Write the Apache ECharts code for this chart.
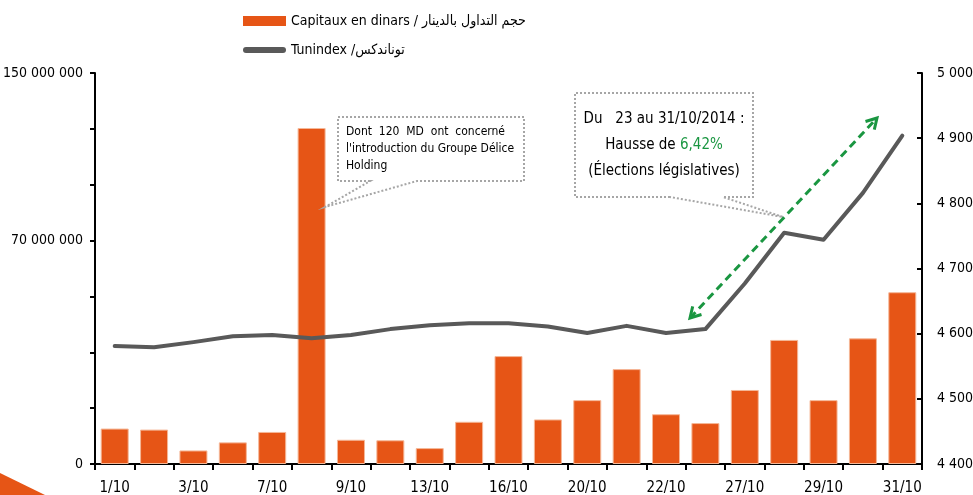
<!DOCTYPE html>
<html>
<head>
<meta charset="utf-8">
<script src="https://cdn.jsdelivr.net/npm/echarts@6/dist/echarts.min.js"></script>
<style>
  html, body { margin: 0; padding: 0; background: #fff; }
  #chart { width: 973px; height: 495px; }
</style>
</head>
<body>
<div id="chart"></div>
<script>
// Séances d'octobre 2014
const days = ['1/10', '2/10', '3/10', '6/10', '7/10', '8/10', '9/10', '10/10', '13/10', '14/10', '16/10',
  '17/10', '20/10', '21/10', '22/10', '23/10', '27/10', '28/10', '29/10', '30/10', '31/10']

// capitaux échangés (dinars)
const capitaux = [13600000, 13200000, 5200000, 8300000, 12300000, 128900000, 9300000, 9100000, 6100000, 16200000,
  41400000, 17100000, 24500000, 36400000, 19100000, 15700000, 28400000, 47600000, 24500000, 48200000, 65900000]

// Tunindex (points)
const tunindex = [4581, 4579, 4587, 4596, 4598, 4593, 4598, 4607, 4613, 4616, 4616,
  4611, 4601, 4612, 4601, 4607, 4677, 4755, 4744, 4816, 4904]

const leftTicks = [0, 21428571, 42857143, 64285714, 85714286, 107142857, 128571429, 150000000]
const leftLabelValues = [0, 85714286, 150000000]
const leftLabelTexts = ['0', '70 000 000', '150 000 000']

const barName = 'Capitaux en dinars / حجم التداول بالدينار'
const lineName = 'Tunindex /توناندكس'

const ORANGE = '#E65516'
const GREY = '#595959'
const GREEN = '#1A9641'
const FONT = "'Liberation Sans Narrow', 'DejaVu Sans Condensed', 'Roboto Condensed', 'Noto Sans', sans-serif"

const chart = echarts.init(document.getElementById('chart'))

function spaced(v) {
  return String(v).replace(/\B(?=(\d{3})+(?!\d))/g, ' ')
}

chart.setOption({
  animation: false,
  textStyle: { fontFamily: FONT },
  grid: { left: 95, right: 51, top: 73, bottom: 31, outerBoundsMode: 'none' },
  legend: {
    orient: 'vertical',
    left: 238,
    top: 9,
    itemWidth: 43,
    itemHeight: 10,
    itemGap: 15,
    textStyle: { fontFamily: FONT, fontSize: 14, color: '#000' },
    data: [
      { name: barName, icon: 'rect', itemStyle: { borderWidth: 0 } },
      { name: lineName, icon: 'path://M3,0H40A3,3 0 0 1 40,6H3A3,3 0 0 1 3,0Z' }
    ]
  },
  xAxis: {
    type: 'category',
    data: days,
    axisLine: { lineStyle: { color: '#000', width: 2 } },
    axisTick: { show: true, length: 6, interval: 0, lineStyle: { color: '#000', width: 2 } },
    axisLabel: { interval: 1, margin: 17, fontSize: 15, color: '#000', fontFamily: FONT }
  },
  yAxis: [
    {
      type: 'value',
      min: 0,
      max: 150000000,
      splitLine: { show: false },
      axisLine: { show: true, lineStyle: { color: '#000', width: 2 } },
      axisTick: { show: true, length: 5, customValues: leftTicks, lineStyle: { color: '#000', width: 2 } },
      axisLabel: {
        margin: 12,
        fontSize: 14,
        color: '#000',
        fontFamily: FONT,
        customValues: leftLabelValues,
        formatter: v => leftLabelTexts[leftLabelValues.indexOf(v)] ?? ''
      }
    },
    {
      type: 'value',
      min: 4400,
      max: 5000,
      interval: 100,
      position: 'right',
      splitLine: { show: false },
      axisLine: { show: true, lineStyle: { color: '#000', width: 2 } },
      axisTick: { show: true, inside: true, length: 5, lineStyle: { color: '#000', width: 2 } },
      axisLabel: { margin: 15, fontSize: 14, color: '#000', fontFamily: FONT, formatter: spaced }
    }
  ],
  series: [
    {
      name: barName,
      type: 'bar',
      data: capitaux,
      barWidth: 28,
      itemStyle: { color: ORANGE, borderColor: '#F5B898', borderWidth: 1 }
    },
    {
      name: lineName,
      type: 'line',
      yAxisIndex: 1,
      data: tunindex,
      color: GREY,
      symbol: 'none',
      z: 3,
      lineStyle: { color: GREY, width: 4, cap: 'round', join: 'round' }
    }
  ],
  graphic: [
    // coin orange en bas à gauche
    { type: 'polygon', shape: { points: [[0, 473], [45, 495], [0, 495]] }, style: { fill: ORANGE } },
    // bulle Délice
    {
      type: 'polygon',
      z: 10,
      shape: { points: [[370, 181], [338, 181], [338, 117], [524, 117], [524, 181], [417, 181], [325, 207], [370, 181]] },
      style: { fill: '#fff', stroke: '#a6a6a6', lineWidth: 2, lineDash: [2, 2] }
    },
    {
      type: 'text',
      z: 11,
      left: 346,
      top: 123,
      style: {
        text: 'Dont  120  MD  ont  concerné\nl\'introduction du Groupe Délice\nHolding',
        font: '12px ' + FONT,
        lineHeight: 17,
        fill: '#000'
      }
    },
    // bulle élections
    {
      type: 'polygon',
      z: 10,
      shape: { points: [[670, 197], [575, 197], [575, 93], [753, 93], [753, 197], [723, 197], [783, 217], [670, 197]] },
      style: { fill: '#fff', stroke: '#a6a6a6', lineWidth: 2, lineDash: [2, 2] }
    },
    {
      type: 'text',
      z: 11,
      x: 664,
      y: 106,
      style: {
        text: 'Du   23 au 31/10/2014 :\nHausse de {g|6,42%}\n(Élections législatives)',
        font: '15px ' + FONT,
        lineHeight: 26,
        align: 'center',
        fill: '#000',
        rich: { g: { fill: GREEN, font: '15px ' + FONT } }
      }
    },
    // flèche verte
    {
      type: 'line',
      z: 12,
      shape: { x1: 690, y1: 318, x2: 877, y2: 118 },
      style: { stroke: GREEN, lineWidth: 3, lineDash: [8, 5] }
    },
    {
      type: 'polyline',
      z: 12,
      shape: { points: [[865.5, 121.5], [877, 118], [874.3, 129.7]] },
      style: { stroke: GREEN, lineWidth: 3, fill: null }
    },
    {
      type: 'polyline',
      z: 12,
      shape: { points: [[701.5, 314.5], [690, 318], [692.7, 306.3]] },
      style: { stroke: GREEN, lineWidth: 3, fill: null }
    }
  ]
})
</script>
</body>
</html>
